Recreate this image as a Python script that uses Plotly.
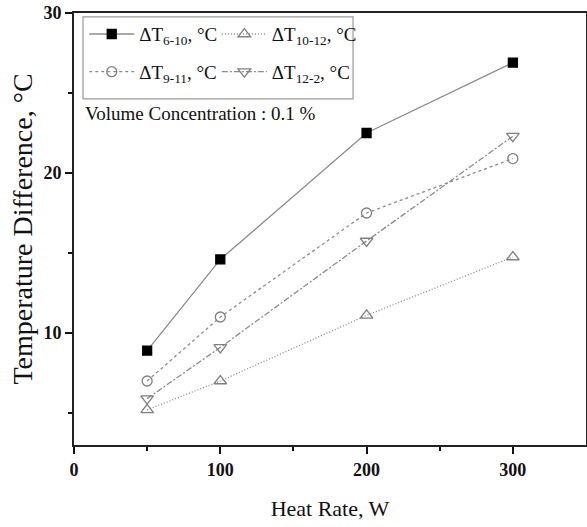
import plotly.graph_objects as go

heat_rate = [50, 100, 200, 300]
dT_6_10 = [8.9, 14.6, 22.5, 26.9]
dT_10_12 = [5.2, 7.0, 11.1, 14.75]
dT_9_11 = [7.0, 11.0, 17.5, 20.9]
dT_12_2 = [5.9, 9.1, 15.75, 22.3]

names = ["ΔT<sub>6-10</sub>, °C", "ΔT<sub>10-12</sub>, °C", "ΔT<sub>9-11</sub>, °C", "ΔT<sub>12-2</sub>, °C"]
series = [dT_6_10, dT_10_12, dT_9_11, dT_12_2]
symbols = ["square", "triangle-up-open", "circle-open", "triangle-down-open"]
dashes = ["solid", "1px,2px", "3px,3px", "6px,2px,2px,2px"]
mcolors = ["#000000", "#808080", "#808080", "#808080"]
msizes = [9, 11, 10, 11]
legends = ["legend", "legend2", "legend", "legend2"]

fig = go.Figure()
for i, (n, s, sym, d, mc, ms, lg) in enumerate(zip(names, series, symbols, dashes, mcolors, msizes, legends)):
    fig.add_trace(go.Scatter(
        x=heat_rate, y=s, name=n, mode="lines+markers", legend=lg, legendgroup=f"g{i}",
        line=dict(color="#8c8c8c", width=1.3, dash=d),
        marker=dict(symbol=sym, size=ms, color=mc, line=dict(color=mc, width=1.3)),
    ))

serif = "Liberation Serif, Times New Roman, serif"
leg_common = dict(
    orientation="v", yanchor="top", xanchor="left",
    bgcolor="rgba(255,255,255,0)", borderwidth=0, itemwidth=45,
    font=dict(family=serif, size=19, color="#111"), tracegroupgap=10,
)
fig.update_layout(
    width=587, height=527,
    margin=dict(l=74, r=1, t=13, b=82),
    paper_bgcolor="white", plot_bgcolor="white",
    font=dict(family=serif, color="#111"),
    showlegend=True,
    legend=dict(x=0.020, y=0.995, **leg_common),
    legend2=dict(x=0.279, y=0.995, **leg_common),
    xaxis=dict(
        range=[0, 350], tickvals=[0, 100, 200, 300], ticks="outside", ticklen=7,
        tickwidth=1.5, tickcolor="#111", automargin=False,
        showline=True, linecolor="#222", linewidth=2, mirror=True,
        showgrid=False, zeroline=False,
        tickfont=dict(family=serif, size=18, color="#111", weight="bold"),
        minor=dict(tickvals=[50, 150, 250], ticks="outside", ticklen=4, tickwidth=1.5, tickcolor="#111"),
        title=dict(text="Heat Rate, W", font=dict(family=serif, size=22, color="#111"), standoff=22),
    ),
    yaxis=dict(
        range=[3, 30], tickvals=[10, 20, 30], ticks="outside", ticklen=7,
        tickwidth=1.5, tickcolor="#111", automargin=False,
        showline=True, linecolor="#222", linewidth=2, mirror=True,
        showgrid=False, zeroline=False,
        tickfont=dict(family=serif, size=18, color="#111", weight="bold"),
        minor=dict(tickvals=[5, 15, 25], ticks="outside", ticklen=4, tickwidth=1.5, tickcolor="#111"),
        title=dict(text="Temperature Difference, °C", font=dict(family=serif, size=28, color="#111"), standoff=3),
    ),
    shapes=[dict(type="rect", xref="paper", yref="paper", x0=0.0176, x1=0.545, y0=0.801, y1=0.991,
                 line=dict(color="#999", width=1.2), fillcolor="rgba(0,0,0,0)")],
    annotations=[dict(
        text="Volume Concentration : 0.1 %", xref="paper", yref="paper",
        x=0.018, y=0.7685, xanchor="left", yanchor="middle", showarrow=False,
        font=dict(family=serif, size=19, color="#111"),
    )],
)

fig.write_html(
    "out.html",
    config={"displayModeBar": False},
    post_script="document.body.style.margin='0';document.body.style.overflow='hidden';",
)
